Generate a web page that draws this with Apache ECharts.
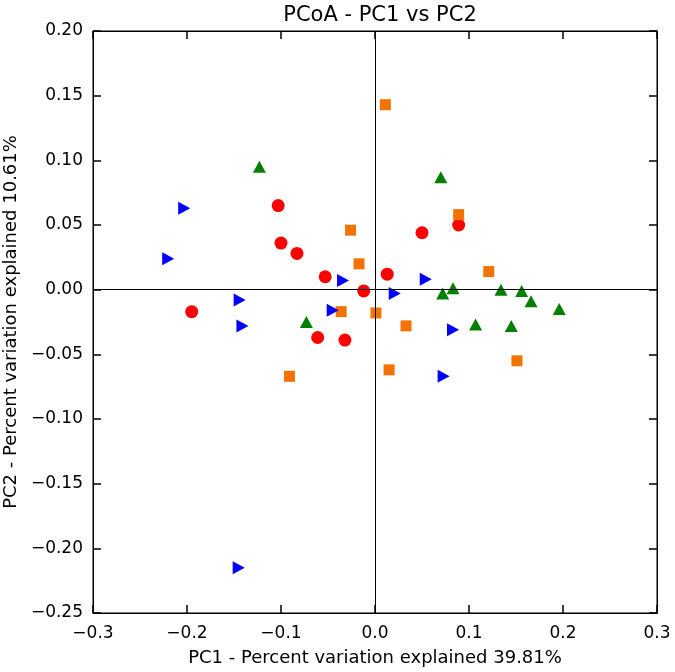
<!DOCTYPE html>
<html>
<head>
<meta charset="utf-8">
<script src="https://cdn.jsdelivr.net/npm/echarts@6/dist/echarts.min.js"></script>
<style>html,body{margin:0;padding:0;background:#fff}#c{width:675px;height:672px}</style>
</head>
<body>
<div id="c"></div>
<script>
const xTicks = [-0.3, -0.2, -0.1, 0.0, 0.1, 0.2, 0.3];
const yTicks = [-0.25, -0.20, -0.15, -0.10, -0.05, 0.00, 0.05, 0.10, 0.15, 0.20];

const redCircles = [
  [-0.103, 0.065], [-0.100, 0.036], [-0.083, 0.028], [-0.053, 0.010], [-0.012, -0.001],
  [-0.195, -0.017], [0.050, 0.044], [0.089, 0.050], [0.013, 0.012], [-0.061, -0.037], [-0.032, -0.039]
];
const orangeSquares = [
  [-0.026, 0.046], [-0.017, 0.020], [-0.036, -0.017], [0.001, -0.018], [0.011, 0.143],
  [0.089, 0.058], [0.121, 0.014], [0.033, -0.028], [0.015, -0.062], [0.151, -0.055], [-0.091, -0.067]
];
const greenTriangles = [
  [-0.123, 0.095], [0.070, 0.087], [0.072, -0.003], [0.083, 0.001], [0.134, 0.000],
  [0.156, -0.001], [0.166, -0.009], [0.196, -0.015], [0.107, -0.027], [0.145, -0.028], [-0.073, -0.025]
];
const blueRightTriangles = [
  [-0.203, 0.063], [-0.220, 0.024], [-0.144, -0.008], [-0.034, 0.007], [-0.045, -0.016],
  [-0.141, -0.028], [-0.145, -0.215], [0.021, -0.003], [0.054, 0.008], [0.083, -0.031], [0.073, -0.067]
];

const font = 'DejaVu Sans';
const fmt = (d) => (v) => {
  const s = Math.abs(v).toFixed(d);
  return (v < -1e-9 ? '\u2212' : '') + s;
};
const tickStyle = {show: true, inside: true, length: 8, lineStyle: {color: '#000', width: 1.5}};
const axisLine = {show: true, onZero: false, lineStyle: {color: '#000', width: 1}};

const chart = echarts.init(document.getElementById('c'), null, {renderer: 'canvas'});
chart.setOption({
  animation: false,
  backgroundColor: '#fff',
  title: {
    text: 'PCoA - PC1 vs PC2', left: 375, top: 0, textAlign: 'center',
    textStyle: {fontFamily: font, fontSize: 21, fontWeight: 'normal', color: '#000'}
  },
  grid: {left: 93, right: 18, top: 31, bottom: 59, show: true, borderColor: '#000', borderWidth: 1,
         containLabel: false, outerBoundsMode: 'none'},
  xAxis: [
    {
      type: 'value', min: xTicks[0], max: xTicks[xTicks.length - 1], interval: 0.1,
      position: 'bottom', axisLine, axisTick: tickStyle, splitLine: {show: false},
      axisLabel: {formatter: fmt(1), fontFamily: font, fontSize: 17, color: '#000', margin: 12},
      name: 'PC1 - Percent variation explained 39.81%', nameLocation: 'middle', nameGap: 36,
      nameTextStyle: {fontFamily: font, fontSize: 18, color: '#000'}
    },
    {
      type: 'value', min: xTicks[0], max: xTicks[xTicks.length - 1], interval: 0.1,
      position: 'top', axisLine, axisTick: tickStyle, splitLine: {show: false},
      axisLabel: {show: false}
    }
  ],
  yAxis: [
    {
      type: 'value', min: yTicks[0], max: yTicks[yTicks.length - 1], interval: 0.05,
      position: 'left', axisLine, axisTick: tickStyle, splitLine: {show: false},
      axisLabel: {formatter: fmt(2), fontFamily: font, fontSize: 17, color: '#000', margin: 10},
      name: 'PC2 - Percent variation explained 10.61%', nameLocation: 'middle', nameGap: 68,
      nameTextStyle: {fontFamily: font, fontSize: 18, color: '#000'}
    },
    {
      type: 'value', min: yTicks[0], max: yTicks[yTicks.length - 1], interval: 0.05,
      position: 'right', axisLine, axisTick: tickStyle, splitLine: {show: false},
      axisLabel: {show: false}
    }
  ],
  series: [
    {
      type: 'scatter', data: [], z: 1, silent: true,
      markLine: {
        silent: true, symbol: 'none', label: {show: false}, animation: false,
        lineStyle: {color: '#000', width: 1, type: 'solid'},
        data: [{xAxis: 0}, {yAxis: 0}]
      }
    },
    {type: 'scatter', z: 3, data: redCircles, symbol: 'circle', symbolSize: 13, itemStyle: {color: '#ff0000', opacity: 1}},
    {type: 'scatter', z: 3, data: orangeSquares, symbol: 'rect', symbolSize: 11, itemStyle: {color: '#f27304', opacity: 1}},
    {type: 'scatter', z: 3, data: greenTriangles, symbol: 'triangle', symbolSize: [13, 12], itemStyle: {color: '#008000', opacity: 1}},
    {type: 'scatter', z: 3, data: blueRightTriangles, symbol: 'path://M0,0 L10,5 L0,10 Z', symbolSize: [12, 13], itemStyle: {color: '#0000ff', opacity: 1}}
  ]
});
</script>
</body>
</html>
